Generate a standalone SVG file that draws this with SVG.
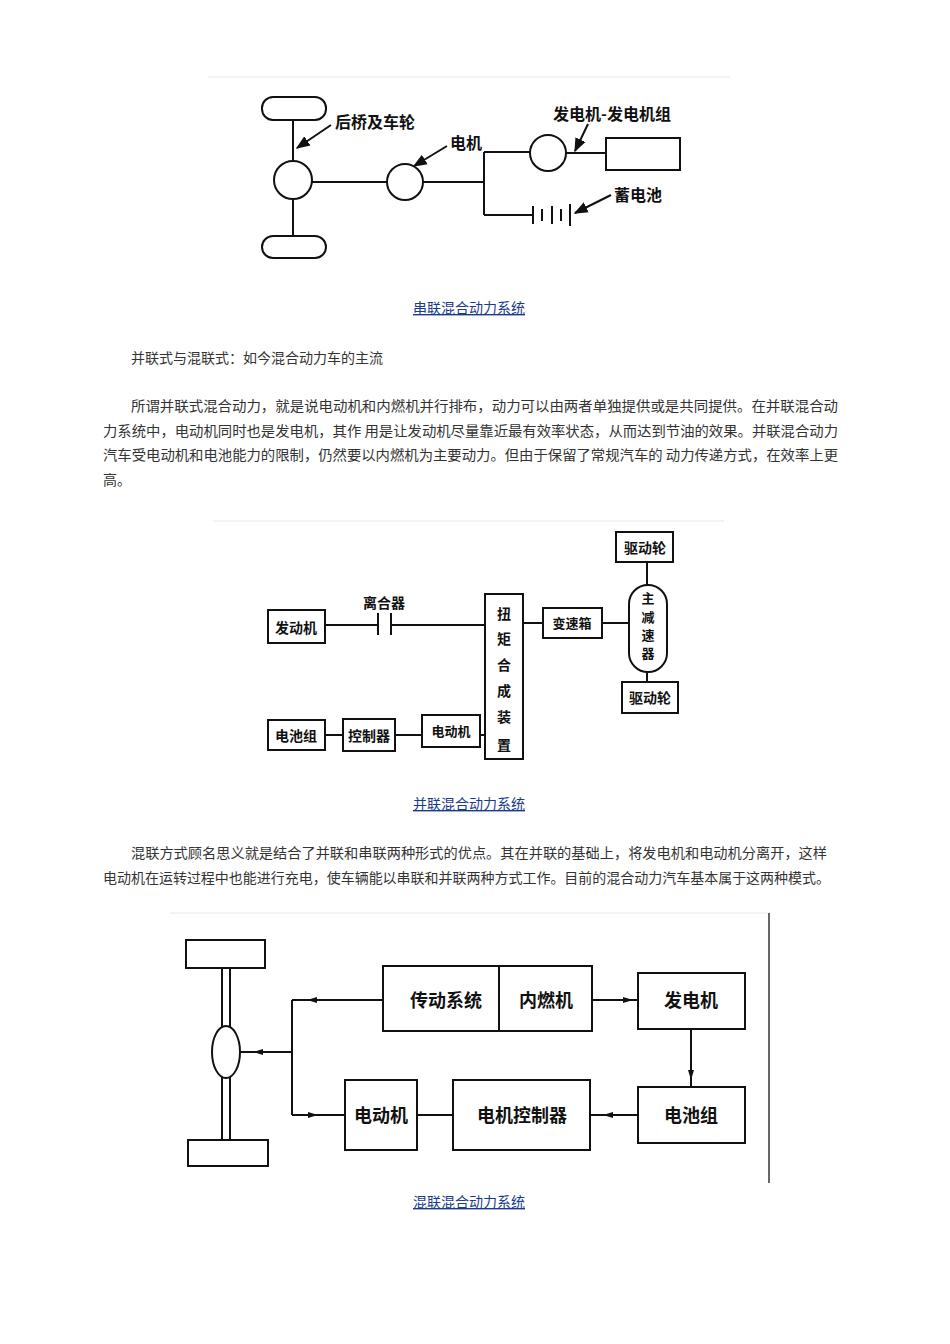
<svg xmlns="http://www.w3.org/2000/svg" width="950" height="1344" viewBox="0 0 950 1344">
<style>
.s{fill:none;stroke:#111;stroke-width:2}
.b{fill:#fff;stroke:#111;stroke-width:2}
.t{font-family:"Noto Sans CJK SC","Noto Sans",sans-serif;fill:#111;font-weight:bold}
.p{font-family:"Noto Sans CJK SC","Noto Sans",sans-serif;fill:#333;font-size:14px}
.c{font-family:"Noto Sans CJK SC","Noto Sans",sans-serif;fill:#1a3a8a;font-size:14px;text-decoration:underline;text-anchor:middle}
.sep{stroke:#e6e6e6;stroke-width:1}
</style>
<defs>
<marker id="a" viewBox="0 0 10 10" refX="9" refY="5" markerWidth="7" markerHeight="7" orient="auto"><path d="M0,1 L10,5 L0,9 z" fill="#111"/></marker>
<marker id="m" viewBox="0 0 10 10" refX="5" refY="5" markerWidth="5" markerHeight="5" orient="auto"><path d="M0,2 L10,5 L0,8 z" fill="#111"/></marker>
</defs>
<rect width="950" height="1344" fill="#fff"/>

<!-- Diagram 1 -->
<line class="sep" x1="208" y1="77" x2="730" y2="77"/>
<g id="d1-connectors">
<path class="s" d="M293,120 V161 M293,199 V236 M312,182 H387 M423,182 H484 M484,152 V215 M484,152 H530 M566,153 H606 M484,215 H533"/>
<path class="s" d="M533,206 V224 M542,209 V221 M552,206 V224 M561,209 V221 M570,204 V226" stroke-width="1.5"/>
<line class="s" x1="331" y1="125" x2="297" y2="148" marker-end="url(#a)"/>
<line class="s" x1="447" y1="146" x2="414" y2="166" marker-end="url(#a)"/>
<line class="s" x1="588" y1="124" x2="575" y2="151" marker-end="url(#a)"/>
<line class="s" x1="611" y1="195" x2="575" y2="213" marker-end="url(#a)"/>
</g>
<g id="wheel-top"><rect class="b" x="262" y="97" width="64" height="23" rx="11"/></g>
<g id="wheel-bot"><rect class="b" x="262" y="236" width="64" height="22" rx="11"/></g>
<g id="axle"><circle class="b" cx="293" cy="180" r="19"/></g>
<g id="motor"><circle class="b" cx="405" cy="182" r="18"/></g>
<g id="gen"><circle class="b" cx="548" cy="153" r="18"/></g>
<g id="engine1"><rect class="b" x="606" y="138" width="74" height="32"/></g>
<text class="t" x="335" y="128" font-size="16">后桥及车轮</text>
<text class="t" x="450" y="149" font-size="16">电机</text>
<text class="t" x="553" y="120" font-size="16">发电机-发电机组</text>
<text class="t" x="614" y="201" font-size="16">蓄电池</text>
<text class="c" x="469" y="313">串联混合动力系统</text>

<text class="p" x="131" y="363">并联式与混联式：如今混合动力车的主流</text>
<text class="p" x="131" y="411" textLength="707" lengthAdjust="spacingAndGlyphs">所谓并联式混合动力，就是说电动机和内燃机并行排布，动力可以由两者单独提供或是共同提供。在并联混合动</text>
<text class="p" x="103" y="436" textLength="735" lengthAdjust="spacingAndGlyphs">力系统中，电动机同时也是发电机，其作 用是让发动机尽量靠近最有效率状态，从而达到节油的效果。并联混合动力</text>
<text class="p" x="103" y="460" textLength="735" lengthAdjust="spacingAndGlyphs">汽车受电动机和电池能力的限制，仍然要以内燃机为主要动力。但由于保留了常规汽车的 动力传递方式，在效率上更</text>
<text class="p" x="103" y="485">高。</text>

<!-- Diagram 2 -->
<line class="sep" x1="213" y1="521" x2="724" y2="521"/>
<g id="d2-connectors">
<path class="s" d="M325,625 H378 M378,613 V635 M391,613 V635 M391,625 H485 M523,623 H543 M602,623 H629 M647,562 V586 M647,671 V682 M325,735 H343 M395,735 H422 M480,735 H485" stroke-width="1.5"/>
</g>
<g id="fdj"><rect class="b" x="268" y="610" width="57" height="33"/><text class="t" x="296" y="633" font-size="14" text-anchor="middle">发动机</text></g>
<g id="torque"><rect class="b" x="485" y="594" width="38" height="165"/>
<text class="t" font-size="14" text-anchor="middle"><tspan x="504" y="619">扭</tspan><tspan x="504" y="644">矩</tspan><tspan x="504" y="670">合</tspan><tspan x="504" y="696">成</tspan><tspan x="504" y="722">装</tspan><tspan x="504" y="750">置</tspan></text></g>
<g id="bsx"><rect class="b" x="543" y="608" width="59" height="30"/><text class="t" x="572" y="628" font-size="13" text-anchor="middle">变速箱</text></g>
<g id="zjsq"><rect class="b" x="629" y="585" width="38" height="87" rx="19"/>
<text class="t" font-size="13" text-anchor="middle"><tspan x="648" y="603">主</tspan><tspan x="648" y="622">减</tspan><tspan x="648" y="640">速</tspan><tspan x="648" y="658">器</tspan></text></g>
<g id="qdl1"><rect class="b" x="616" y="532" width="57" height="30"/><text class="t" x="645" y="553" font-size="14" text-anchor="middle">驱动轮</text></g>
<g id="qdl2"><rect class="b" x="622" y="682" width="56" height="31"/><text class="t" x="650" y="703" font-size="14" text-anchor="middle">驱动轮</text></g>
<g id="dcz"><rect class="b" x="268" y="720" width="57" height="30"/><text class="t" x="296" y="741" font-size="14" text-anchor="middle">电池组</text></g>
<g id="kzq"><rect class="b" x="343" y="719" width="52" height="32" stroke-width="3"/><text class="t" x="369" y="741" font-size="14" text-anchor="middle">控制器</text></g>
<g id="ddj"><rect class="b" x="422" y="715" width="58" height="32"/><text class="t" x="451" y="736" font-size="13" text-anchor="middle">电动机</text></g>
<text class="t" x="384" y="608" font-size="14" text-anchor="middle">离合器</text>
<text class="c" x="469" y="809">并联混合动力系统</text>

<text class="p" x="131" y="858" textLength="696" lengthAdjust="spacingAndGlyphs">混联方式顾名思义就是结合了并联和串联两种形式的优点。其在并联的基础上，将发电机和电动机分离开，这样</text>
<text class="p" x="103" y="883" textLength="727" lengthAdjust="spacingAndGlyphs">电动机在运转过程中也能进行充电，使车辆能以串联和并联两种方式工作。目前的混合动力汽车基本属于这两种模式。</text>

<!-- Diagram 3 -->
<line class="sep" x1="170" y1="913" x2="770" y2="913"/>
<line x1="769" y1="913" x2="769" y2="1183" stroke="#333" stroke-width="1.5"/>
<g id="d3-connectors">
<path class="s" d="M222,968 V1028 M230,968 V1028 M222,1076 V1140 M230,1076 V1140 M292,1000 V1115" stroke-width="1.5"/>
<path class="s" d="M383,1000 L312,1000 L292,1000" stroke-width="1.5" marker-mid="url(#m)"/>
<path class="s" d="M292,1052 L258,1052 L240,1052" stroke-width="1.5" marker-mid="url(#m)"/>
<path class="s" d="M292,1115 L313,1115 L345,1115" stroke-width="1.5" marker-mid="url(#m)"/>
<path class="s" d="M592,1000 L628,1000 L638,1000" stroke-width="1.5" marker-mid="url(#m)"/>
<path class="s" d="M691,1029 L691,1075 L691,1087" stroke-width="1.5" marker-mid="url(#m)"/>
<path class="s" d="M638,1115 L608,1115 L590,1115" stroke-width="1.5" marker-mid="url(#m)"/>
<path class="s" d="M417,1115 H453" stroke-width="1.5"/>
</g>
<g id="wheel3-top"><rect class="b" x="186" y="940" width="79" height="28"/></g>
<g id="wheel3-bot"><rect class="b" x="188" y="1140" width="80" height="26"/></g>
<g id="diff"><ellipse class="b" cx="226" cy="1052" rx="14" ry="26"/></g>
<g id="cdxt"><rect class="b" x="383" y="966" width="209" height="65"/><line class="s" x1="499" y1="966" x2="499" y2="1031"/>
<text class="t" x="446" y="1007" font-size="18" text-anchor="middle">传动系统</text><text class="t" x="546" y="1007" font-size="18" text-anchor="middle">内燃机</text></g>
<g id="fdj3"><rect class="b" x="638" y="973" width="107" height="56"/><text class="t" x="691" y="1007" font-size="18" text-anchor="middle">发电机</text></g>
<g id="dcz3"><rect class="b" x="638" y="1087" width="107" height="56"/><text class="t" x="691" y="1122" font-size="18" text-anchor="middle">电池组</text></g>
<g id="kzq3"><rect class="b" x="453" y="1080" width="137" height="70"/><text class="t" x="522" y="1122" font-size="18" text-anchor="middle">电机控制器</text></g>
<g id="ddj3"><rect class="b" x="345" y="1080" width="72" height="70"/><text class="t" x="381" y="1122" font-size="18" text-anchor="middle">电动机</text></g>
<text class="c" x="469" y="1207">混联混合动力系统</text>
</svg>
